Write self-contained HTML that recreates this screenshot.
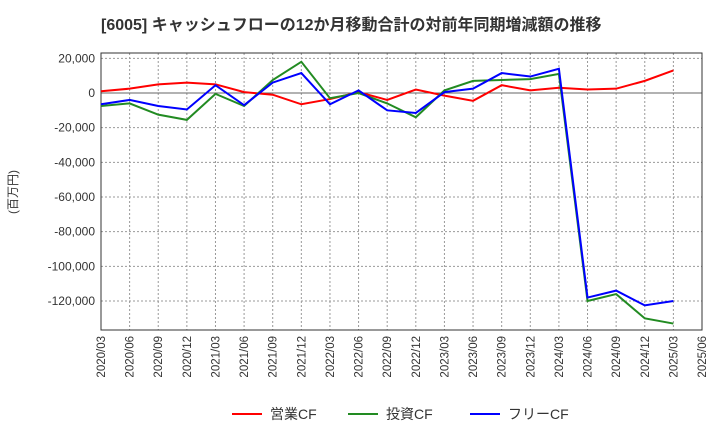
<!DOCTYPE html>
<html><head><meta charset="utf-8"><style>
body{margin:0;background:#fff;font-family:"Liberation Sans","Noto Sans CJK JP",sans-serif;}
</style></head><body>
<svg width="720" height="440" xmlns="http://www.w3.org/2000/svg" id="chart">
<text x="101" y="30" text-anchor="start" font-size="16" font-weight="bold" fill="#333" font-family="Liberation Sans, Noto Sans CJK JP, sans-serif">[6005]  キャッシュフローの12か月移動合計の対前年同期増減額の推移</text>
<text transform="translate(17,192) rotate(-90)" text-anchor="middle" font-size="12" fill="#333" font-family="Liberation Sans, Noto Sans CJK JP, sans-serif">(百万円)</text>
<g id="grid"></g><g id="axes"></g><g id="series"></g><g id="legend"></g>
</svg>
<script>
const categories=["2020/03","2020/06","2020/09","2020/12","2021/03","2021/06","2021/09","2021/12","2022/03","2022/06","2022/09","2022/12","2023/03","2023/06","2023/09","2023/12","2024/03","2024/06","2024/09","2024/12","2025/03","2025/06"];
const eigyoCF=[1000,2500,5000,6000,5000,500,-1000,-6500,-3500,500,-4000,2000,-1500,-4500,4500,1500,3000,2000,2500,7000,13000];
const toshiCF=[-7500,-6000,-12500,-15500,-500,-7500,7500,18000,-3000,0,-6000,-14000,1500,7000,7500,8000,11000,-120000,-116000,-130000,-133000];
const freeCF=[-6500,-4000,-7500,-9500,4500,-7000,6000,11500,-6500,1500,-10000,-11500,500,2500,11500,9500,14000,-118000,-114000,-122500,-120000];
const yTicks=[20000,0,-20000,-40000,-60000,-80000,-100000,-120000];
const seriesNames=["営業CF","投資CF","フリーCF"];
const colors=["#ff0000","#228b22","#0000ff"];
const L=101,R=702,T=53,B=330;
const NS="http://www.w3.org/2000/svg";
function x(i){return L+i*(R-L)/(categories.length-1);}
function y(v){return 93-v*34.67/20000;}
function mk(tag,attrs,parent){const e=document.createElementNS(NS,tag);for(const k in attrs)e.setAttribute(k,attrs[k]);parent.appendChild(e);return e;}
const grid=document.getElementById('grid'),axes=document.getElementById('axes'),ser=document.getElementById('series'),leg=document.getElementById('legend');
categories.forEach((c,i)=>{
 const g=mk('line',{x1:x(i),x2:x(i),y1:T,y2:B,stroke:'#999','stroke-dasharray':'2,2'},grid);
 
 
 const t=mk('text',{transform:`translate(${x(i)+4},${B+6}) rotate(-90)`,'text-anchor':'end','font-size':'11.5',fill:'#333'},axes);
 t.textContent=c;
 
 
});
yTicks.forEach(v=>{
 const g=mk('line',{x1:L,x2:R,y1:y(v),y2:y(v),stroke:v===0?'#666':'#999','stroke-dasharray':v===0?'':'2,2'},grid);
 
 
 const t=mk('text',{x:L-6,y:y(v)+4,'text-anchor':'end','font-size':'12',fill:'#333'},axes);
 t.textContent=v.toLocaleString('en-US');
 
 
});
const fr=mk('rect',{x:L,y:T,width:R-L,height:B-T,fill:'none',stroke:'#333','stroke-width':1},axes);


[eigyoCF,toshiCF,freeCF].forEach((d,s)=>{
 const p=mk('polyline',{points:d.map((v,i)=>x(i)+','+y(v)).join(' '),fill:'none',stroke:colors[s],'stroke-width':2},ser);
 
 
});
const lx=[232,348,470];
seriesNames.forEach((n,s)=>{
 const l=mk('line',{x1:lx[s],x2:lx[s]+30,y1:414,y2:414,stroke:colors[s],'stroke-width':2},leg);
 
 
 const t=mk('text',{x:lx[s]+38,y:419,'font-size':'14',fill:'#333'},leg);
 t.textContent=n;
 
 
});
</script>
</body></html>
